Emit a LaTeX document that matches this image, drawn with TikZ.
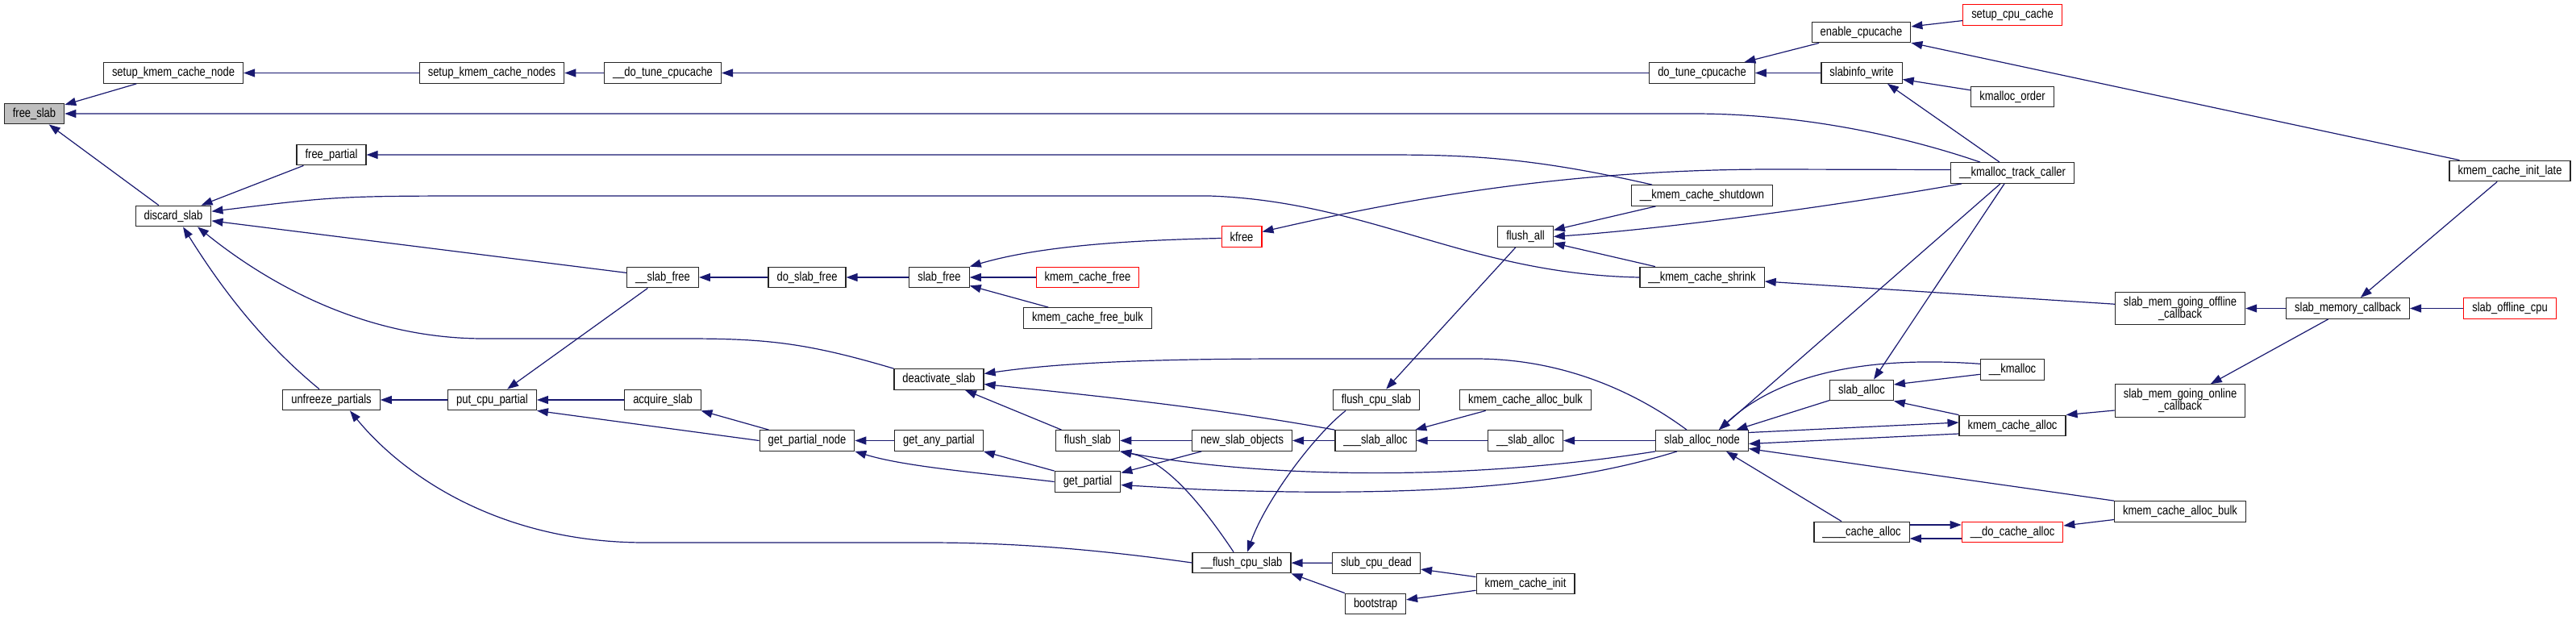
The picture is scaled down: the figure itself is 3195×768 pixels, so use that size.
\documentclass[tikz,border=0pt]{standalone}
\usepackage{fontspec}
\setmainfont{Liberation Sans}[FakeStretch=0.82]
\usetikzlibrary{arrows.meta}
\definecolor{midnightblue}{RGB}{25,25,112}
\definecolor{curgray}{RGB}{191,191,191}

\begin{document}
\begin{tikzpicture}[
    x=1pt, y=-1pt,
    fn/.style={rectangle, draw=black!85, line width=1.2pt, fill=white, minimum height=25.6pt, inner xsep=10.5pt, inner ysep=2pt, align=center, font=\fontsize{15.8}{15}\selectfont},
    fnred/.style={fn, draw=red},
    fncur/.style={fn, fill=curgray},
    fntwo/.style={fn, minimum height=40.4pt},
    callarrow/.style={-{Triangle[length=14pt, width=10pt]}, draw=midnightblue, line width=1.2pt}
]
\useasboundingbox (0,0) rectangle (3195,768);

% Functions
\node[fncur] (freeslab) at (42.5,141) {free\_slab};
\node[fn] (setupnode) at (215,90.5) {setup\_kmem\_cache\_node};
\node[fn] (discard) at (215,268) {discard\_slab};
\node[fn] (freepartial) at (411,192) {free\_partial};
\node[fn] (unfreeze) at (411,496) {unfreeze\_partials};
\node[fn] (setupnodes) at (610,90.5) {setup\_kmem\_cache\_nodes};
\node[fn] (putcpu) at (610.5,496) {put\_cpu\_partial};
\node[fn] (dotune2) at (822,90.5) {\_\_do\_tune\_cpucache};
\node[fn] (slabfree2) at (822,344) {\_\_slab\_free};
\node[fn] (acquire) at (822,496) {acquire\_slab};
\node[fn] (doslabfree) at (1001,344) {do\_slab\_free};
\node[fn] (getpartialnode) at (1001,546.5) {get\_partial\_node};
\node[fn] (slabfree) at (1165,344) {slab\_free};
\node[fn] (deactivate) at (1164.5,470.5) {deactivate\_slab};
\node[fn] (getanypartial) at (1164.5,546.5) {get\_any\_partial};
\node[fnred] (kcfree) at (1349,344) {kmem\_cache\_free};
\node[fn] (kcfreebulk) at (1349,394.5) {kmem\_cache\_free\_bulk};
\node[fn] (flushslab) at (1349,546.5) {flush\_slab};
\node[fn] (getpartial) at (1349,597.5) {get\_partial};
\node[fnred] (kfree) at (1540,293.5) {kfree};
\node[fn] (newslab) at (1540.5,546.5) {new\_slab\_objects};
\node[fn] (flushcpu2) at (1540,698) {\_\_flush\_cpu\_slab};
\node[fn] (flushcpu) at (1707,496) {flush\_cpu\_slab};
\node[fn] (slaballoc3) at (1706,546.5) {\_\_\_slab\_alloc};
\node[fn] (slubdead) at (1707,698.5) {slub\_cpu\_dead};
\node[fn] (bootstrap) at (1706,749) {bootstrap};
\node[fn] (flushall) at (1892,293.5) {flush\_all};
\node[fn] (kcallocbulk) at (1892,496) {kmem\_cache\_alloc\_bulk};
\node[fn] (slaballoc2) at (1892,546.5) {\_\_slab\_alloc};
\node[fn] (kcinit) at (1892,724) {kmem\_cache\_init};
\node[fn] (dotune) at (2111,90.5) {do\_tune\_cpucache};
\node[fn] (shutdown) at (2111,242.5) {\_\_kmem\_cache\_shutdown};
\node[fn] (shrink) at (2111,344) {\_\_kmem\_cache\_shrink};
\node[fn] (slaballocnode) at (2111,546.5) {slab\_alloc\_node};
\node[fn] (enablecc) at (2308.5,40) {enable\_cpucache};
\node[fn] (slabinfo) at (2309,90.5) {slabinfo\_write};
\node[fn] (slaballoc) at (2309,484) {slab\_alloc};
\node[fn] (cachealloc4) at (2309,660) {\_\_\_\_cache\_alloc};
\node[fnred] (setupcc) at (2496,18.5) {setup\_cpu\_cache};
\node[fn] (kmorder) at (2496,120) {kmalloc\_order};
\node[fn] (kmtc) at (2496,214.5) {\_\_kmalloc\_track\_caller};
\node[fn] (kmalloc) at (2496,458.3) {\_\_kmalloc};
\node[fn] (kcalloc) at (2496,528) {kmem\_cache\_alloc};
\node[fnred] (docachealloc) at (2496,660) {\_\_do\_cache\_alloc};
\node[fntwo] (offlinecb) at (2704,382.5) {slab\_mem\_going\_offline\\\_callback};
\node[fntwo] (onlinecb) at (2704,497) {slab\_mem\_going\_online\\\_callback};
\node[fn] (kcallocbulkb) at (2704,634.5) {kmem\_cache\_alloc\_bulk};
\node[fn] (memcb) at (2912,382.5) {slab\_memory\_callback};
\node[fn] (kcinitlate) at (3113,212) {kmem\_cache\_init\_late};
\node[fnred] (offlinecpu) at (3113,382.5) {slab\_offline\_cpu};

% Calls into free_slab and its callers
\draw[callarrow] (setupnode) -- (freeslab);
\draw[callarrow] (discard) -- (freeslab);
\draw[callarrow] ([xshift=-40pt]kmtc.north) .. controls (2380,175) and (2250,141) .. (2100,141) -- (freeslab);
\draw[callarrow] (setupnodes) -- (setupnode);
\draw[callarrow] (dotune2) -- (setupnodes);
\draw[callarrow] (dotune) -- (dotune2);
\draw[callarrow] (enablecc) -- (dotune);
\draw[callarrow] (slabinfo) -- (dotune);
\draw[callarrow] (setupcc) -- (enablecc);
\draw[callarrow] (kcinitlate) -- (enablecc);
\draw[callarrow] (kmorder) -- (slabinfo);
\draw[callarrow] ([xshift=-16pt]kmtc.north) -- ([xshift=32pt]slabinfo.south);

% discard_slab
\draw[callarrow] (freepartial) -- (discard);
\draw[callarrow] ([xshift=-62pt]shutdown.north) .. controls (1900,195) and (1820,192) .. (1717,192) -- (freepartial);
\draw[callarrow] (shrink.west) .. controls (1820,340) and (1700,250) .. (1500,243) -- (620,243) .. controls (420,243) .. (discard);
\draw[callarrow] (slabfree2) -- (discard);
\draw[callarrow] ([xshift=-15pt]unfreeze.north) .. controls (320,420) and (270,350) .. ([xshift=12pt]discard.south);
\draw[callarrow] (deactivate.north west) .. controls (1000,425) and (950,420) .. (850,420) -- (600,420) .. controls (450,420) and (330,350) .. ([xshift=30pt]discard.south);

% partial lists
\draw[callarrow] (putcpu) -- (unfreeze);
\draw[callarrow] (flushcpu2.west) .. controls (1350,680) and (1250,673) .. (1150,673) -- (800,673) .. controls (620,673) and (500,590) .. ([xshift=23pt]unfreeze.south);
\draw[callarrow] (acquire) -- (putcpu);
\draw[callarrow] (slabfree2) -- (putcpu);
\draw[callarrow] (getpartialnode.west) -- (putcpu.south east);
\draw[callarrow] (doslabfree) -- (slabfree2);
\draw[callarrow] (slabfree) -- (doslabfree);
\draw[callarrow] ([yshift=-2pt]kfree.west) .. controls (1400,298) and (1290,305) .. (slabfree.north east);
\draw[callarrow] (kcfree) -- (slabfree);
\draw[callarrow] (kcfreebulk) -- (slabfree);
\draw[callarrow] ([yshift=4pt]kmtc.west) -- (2200,210) .. controls (1950,210) and (1750,245) .. ([yshift=6pt]kfree.east);
\draw[callarrow] (getpartialnode) -- (acquire);
\draw[callarrow] (getanypartial) -- (getpartialnode);
\draw[callarrow] (getpartial.west) .. controls (1200,585) and (1120,578) .. (getpartialnode.south east);
\draw[callarrow] (getpartial.north west) -- (getanypartial.south east);

% deactivate / flush
\draw[callarrow] (flushslab) -- (deactivate);
\draw[callarrow] ([xshift=-19pt]slaballocnode.north) .. controls (2020,480) and (1930,445) .. (1830,445) -- (1600,445) .. controls (1400,445) and (1300,452) .. ([yshift=7pt]deactivate.east);
\draw[callarrow] (slaballoc3.north west) .. controls (1500,505) and (1350,490) .. ([yshift=-6pt]deactivate.east);
\draw[callarrow] (newslab) -- (flushslab);
\draw[callarrow] (slaballocnode.south west) .. controls (1800,600) and (1550,590) .. (flushslab.south east);
\draw[callarrow] ([xshift=-10pt]flushcpu2.north) .. controls (1480,610) and (1440,570) .. (flushslab.south east);
\draw[callarrow] (newslab) -- (getpartial);
\draw[callarrow] ([xshift=-31pt]slaballocnode.south) .. controls (1950,600) and (1800,612) .. (1600,610) .. controls (1500,608) .. ([yshift=-4pt]getpartial.east);
\draw[callarrow] (slaballoc3) -- (newslab);
\draw[callarrow] ([xshift=-38pt]flushcpu.south) .. controls (1630,540) and (1570,620) .. ([xshift=7pt]flushcpu2.north);
\draw[callarrow] (flushall) -- (flushcpu);
\draw[callarrow] (slubdead) -- (flushcpu2);
\draw[callarrow] (bootstrap.north west) -- (flushcpu2.south east);
\draw[callarrow] (kcinit) -- (slubdead);
\draw[callarrow] (kcinit) -- (bootstrap);

% allocation paths
\draw[callarrow] (slaballoc2) -- (slaballoc3);
\draw[callarrow] (kcallocbulk) -- (slaballoc3);
\draw[callarrow] (slaballocnode) -- (slaballoc2);
\draw[callarrow] (slaballoc) -- (slaballocnode);
\draw[callarrow] ([xshift=-15pt]kmtc.south) -- ([xshift=21pt]slaballocnode.north);
\draw[callarrow] ([xshift=-10pt]kmtc.south) -- ([xshift=15pt]slaballoc.north);
\draw[callarrow] ([yshift=7pt]kmalloc.west) .. controls (2300,440) and (2200,470) .. ([xshift=21pt]slaballocnode.north);
\draw[callarrow] ([yshift=-6pt]kmalloc.west) -- ([yshift=7pt]slaballoc.east);
\draw[callarrow] (kcalloc.north west) -- (slaballoc.south east);
\draw[callarrow] ([yshift=10pt]slaballocnode.east) -- ([yshift=4pt]kcalloc.west);
\draw[callarrow] ([yshift=-10pt]kcalloc.west) -- ([yshift=-4pt]slaballocnode.east);
\draw[callarrow] (kcallocbulkb.north west) -- ([yshift=-10pt]slaballocnode.east);
\draw[callarrow] ([xshift=-25pt]cachealloc4.north) -- ([xshift=30pt]slaballocnode.south);
\draw[callarrow] ([yshift=9pt]cachealloc4.east) -- ([yshift=9pt]docachealloc.west);
\draw[callarrow] ([yshift=-8pt]docachealloc.west) -- ([yshift=-8pt]cachealloc4.east);
\draw[callarrow] ([yshift=-10pt]kcallocbulkb.west) -- ([yshift=8pt]docachealloc.east);
\draw[callarrow] ([yshift=-12pt]onlinecb.west) -- (kcalloc.north east);

% memory hotplug
\draw[callarrow] (memcb) -- (onlinecb);
\draw[callarrow] (memcb) -- (offlinecb);
\draw[callarrow] (offlinecpu) -- (memcb);
\draw[callarrow] (kcinitlate) -- (memcb);
\draw[callarrow] (offlinecb) -- (shrink);
\draw[callarrow] (shutdown) -- (flushall);
\draw[callarrow] (shrink) -- (flushall);
\draw[callarrow] ([xshift=-63pt]kmtc.south) .. controls (2250,260) and (2050,285) .. (flushall.east);

\end{tikzpicture}
\end{document}
